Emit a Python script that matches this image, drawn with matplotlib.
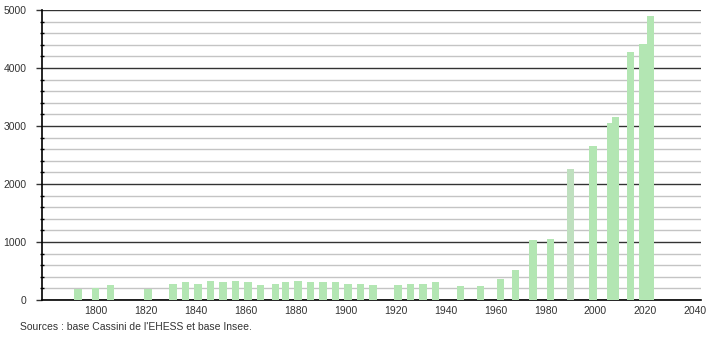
import matplotlib
matplotlib.use("Agg")
import matplotlib.pyplot as plt
from matplotlib.ticker import MultipleLocator

plt.rcParams['font.family'] = ['Liberation Sans', 'DejaVu Sans']

# années de recensement et population
annees = [1793, 1800, 1806, 1821, 1831, 1836, 1841, 1846, 1851, 1856,
          1861, 1866, 1872, 1876, 1881, 1886, 1891, 1896, 1901, 1906,
          1911, 1921, 1926, 1931, 1936, 1946, 1954, 1962, 1968, 1975,
          1982, 1990, 1999, 2006, 2008, 2014, 2019, 2022]
population = [185, 208, 260, 185, 277, 312, 277, 329, 312, 335,
              312, 260, 277, 312, 335, 312, 312, 312, 277, 277,
              260, 260, 277, 277, 312, 243, 243, 364, 520, 1040,
              1058, 2259, 2661, 3052, 3155, 4282, 4420, 4902]

fig = plt.figure(figsize=(7.1, 3.4), dpi=100)
ax = fig.add_axes([42 / 710, 40 / 340, 659 / 710, 290 / 340])

couleurs = ['#bfe0bf' if a == 1990 else '#b3e6b3' for a in annees]
ax.bar(annees, population, width=3.0, color=couleurs, zorder=3)

ax.set_xlim(1778.6, 2042.2)
ax.set_ylim(0, 5000)

ax.yaxis.set_major_locator(MultipleLocator(1000))
ax.yaxis.set_minor_locator(MultipleLocator(200))
ax.set_xticks(range(1800, 2041, 20))

ax.grid(axis='y', which='minor', color='#c4c4c4', linewidth=1, zorder=1)
ax.grid(axis='y', which='major', color='#333333', linewidth=1, zorder=2)

for s in ['top', 'right']:
    ax.spines[s].set_visible(False)
ax.spines['left'].set_linewidth(1.2)
ax.spines['bottom'].set_linewidth(1.2)

ax.tick_params(axis='x', length=0, labelsize=7.5, pad=4, colors='#333333')
ax.tick_params(axis='y', which='major', length=4, width=1, labelsize=7.5,
               pad=7, colors='#333333')
ax.tick_params(axis='y', which='minor', length=3, width=1, direction='inout')

fig.text(20 / 710, 1 - 327 / 340, "Sources : base Cassini de l'EHESS et base Insee.",
         fontsize=7.5, color='#333333', va='center', ha='left')

fig.savefig('out.png', dpi=100)
